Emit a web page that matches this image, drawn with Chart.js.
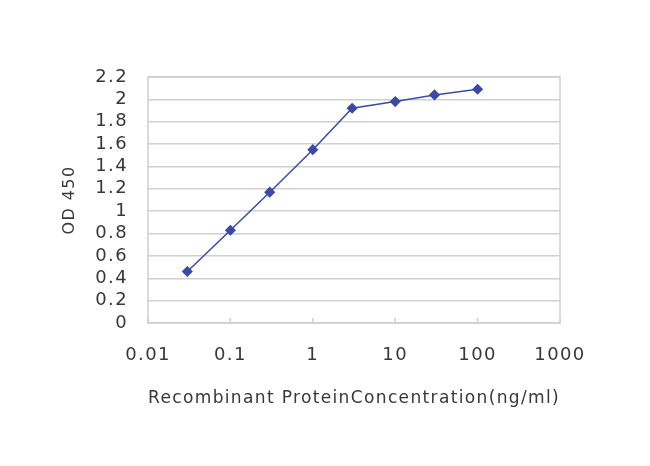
<!DOCTYPE html>
<html>
<head>
<meta charset="utf-8">
<script src="https://cdn.jsdelivr.net/npm/chart.js@4/dist/chart.umd.min.js"></script>
<style>
	html, body { margin: 0; padding: 0; background: #fff; }
	#wrap { width: 650px; height: 466px; }
</style>
</head>
<body>
<div id="wrap"><canvas id="odcanvas" width="650" height="466"></canvas></div>
<script>
	var concentrations = [0.03, 0.1, 0.3, 1, 3, 10, 30, 100],
		od450 = [0.46, 0.83, 1.17, 1.55, 1.92, 1.98, 2.04, 2.09],
		xTicks = [0.01, 0.1, 1, 10, 100, 1000],
		yTicks = [0, 0.2, 0.4, 0.6, 0.8, 1, 1.2, 1.4, 1.6, 1.8, 2, 2.2];

	var lineColor = '#3a4aa6',
		textColor = '#383838',
		gridColor = '#d0d0d0';

	Chart.defaults.font.family = '"DejaVu Sans", sans-serif';
	Chart.defaults.font.size = 18;
	Chart.defaults.color = textColor;

	// plot frame and the little decade ticks standing on the bottom edge
	var framePlugin = {
		id: 'frame',
		beforeDraw: function (chart) {
			// the original text is drawn wide, so open it up a little
			chart.ctx.letterSpacing = '1.4px';
		},
		beforeDatasetsDraw: function (chart) {
			var ctx = chart.ctx,
				a = chart.chartArea,
				xs = chart.scales.x;
			ctx.save();
			ctx.strokeStyle = gridColor;
			ctx.lineWidth = 1.5;
			ctx.strokeRect(a.left, a.top, a.right - a.left, a.bottom - a.top);
			ctx.beginPath();
			xTicks.forEach(function (v) {
				var px = xs.getPixelForValue(v);
				ctx.moveTo(px, a.bottom);
				ctx.lineTo(px, a.bottom - 5);
			});
			ctx.stroke();
			ctx.restore();
		}
	};

	var points = concentrations.map(function (c, i) {
		return {x: c, y: od450[i]};
	});

	new Chart(document.getElementById('odcanvas'), {
		type: 'line',
		data: {
			datasets: [{
				data: points,
				borderColor: lineColor,
				backgroundColor: lineColor,
				borderWidth: 1.5,
				pointStyle: 'rectRot',
				pointRadius: 4.5,
				pointHoverRadius: 4.5,
				tension: 0
			}]
		},
		options: {
			responsive: false,
			animation: false,
			events: [],
			layout: {padding: {left: 60, right: 90, top: 77, bottom: 57}},
			plugins: {legend: {display: false}, tooltip: {enabled: false}},
			scales: {
				x: {
					type: 'logarithmic',
					min: 0.01,
					max: 1000,
					afterBuildTicks: function (s) {
						s.ticks = xTicks.map(function (v) { return {value: v}; });
					},
					afterFit: function (s) { s.height = 86; },
					grid: {display: false},
					border: {display: false},
					ticks: {
						padding: 14,
						maxRotation: 0,
						autoSkip: false,
						callback: function (v) { return String(v); }
					},
					title: {
						display: true,
						text: 'Recombinant ProteinConcentration(ng/ml)',
						padding: {top: 18, bottom: 0}
					}
				},
				y: {
					min: 0,
					max: 2.2,
					afterBuildTicks: function (s) {
						s.ticks = yTicks.map(function (v) { return {value: v}; });
					},
					afterFit: function (s) { s.width = 88; },
					grid: {color: gridColor, lineWidth: 1.5, drawTicks: false},
					border: {display: false},
					ticks: {
						padding: 20,
						autoSkip: false,
						font: {lineHeight: 1},
						callback: function (v) { return String(Number(v.toFixed(1))); }
					},
					title: {
						display: true,
						text: 'OD 450',
						font: {size: 16},
						padding: 0
					}
				}
			}
		},
		plugins: [framePlugin]
	});
</script>
</body>
</html>
